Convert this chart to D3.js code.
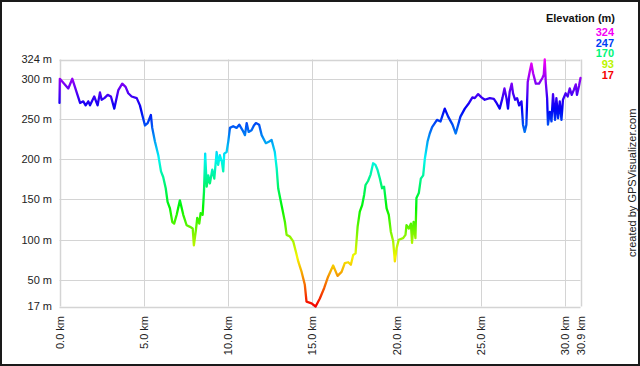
<!DOCTYPE html>
<html><head><meta charset="utf-8">
<script src="https://cdn.jsdelivr.net/npm/d3@7"></script>
<style>
html,body{margin:0;padding:0;background:#fff;}
svg{display:block;font-family:"Liberation Sans",Arial,sans-serif;}
</style></head>
<body>
<svg id="c" width="640" height="366"></svg>
<script>
const distKm = [0.00,0.02,0.52,0.76,1.22,1.41,1.55,1.71,1.81,2.06,2.26,2.40,2.50,2.66,2.86,3.05,3.25,3.49,3.72,3.92,4.08,4.28,4.58,4.77,4.91,5.07,5.23,5.42,5.50,5.66,5.86,6.02,6.15,6.30,6.41,6.55,6.69,6.80,6.95,7.14,
7.34,7.54,7.74,7.90,7.97,8.09,8.17,8.29,8.37,8.49,8.57,8.64,8.73,8.82,8.92,9.06,9.18,9.32,9.41,9.51,9.63,9.71,9.77,9.91,10.01,10.11,10.30,10.50,10.66,10.86,11.00,11.10,11.22,11.39,11.53,11.65,11.84,11.99,12.24,12.44,12.58,12.77,12.88,12.97,13.17,13.37,13.47,13.66,13.86,14.02,14.16,14.36,14.55,14.65,
14.95,15.19,15.44,15.70,15.93,16.23,16.49,16.73,16.92,17.12,17.28,17.42,17.56,17.68,17.81,17.95,18.07,18.15,18.30,18.45,18.60,18.74,18.86,19.00,19.13,19.25,19.40,19.53,19.65,19.79,19.89,19.99,20.12,20.38,20.52,20.58,20.72,20.84,20.91,21.00,21.11,21.17,21.31,21.43,21.57,21.67,21.83,21.96,22.10,
22.39,22.60,22.85,23.05,23.31,23.50,23.78,24.04,24.29,24.49,24.63,24.83,25.03,25.22,25.52,25.76,25.92,26.11,26.27,26.39,26.51,26.60,26.70,26.82,26.90,27.02,27.14,27.26,27.40,27.49,27.59,27.69,27.77,27.89,27.99,28.09,28.25,28.44,28.64,28.72,28.78,28.84,28.92,28.97,29.08,29.18,29.27,29.39,29.47,29.57,29.67,29.77,29.86,30.02,30.14,30.26,30.38,30.50,30.62,30.69,30.81,30.90];
const elevM = [270,300,288,300,270,272,267,272,267,278,267,283,274,276,280,278,263,286,294,290,282,278,276,267,255,242,245,255,239,222,205,185,178,164,147,139,122,120,131,149,
131,118,116,114,93,112,127,120,133,131,160,207,166,180,170,187,176,209,193,205,197,185,207,209,222,239,241,239,243,236,230,245,234,236,242,245,243,230,220,222,224,209,189,164,143,122,106,104,98,85,73,60,44,23,
21,17,27,40,54,68,55,60,71,72,69,81,83,116,135,143,156,168,173,181,195,193,187,176,164,166,139,131,110,98,73,89,100,102,106,118,114,120,96,122,102,152,158,176,180,201,222,232,240,
249,247,263,253,243,232,253,263,270,277,276,281,277,274,276,275,270,263,276,288,276,263,284,294,282,274,276,267,272,243,234,243,296,309,319,307,294,294,301,305,324,296,276,243,259,247,281,249,276,251,272,249,274,282,278,288,280,286,293,280,291,301];
const yTicks = [17,50,100,150,200,250,300,324];
const xTicks = [0,5,10,15,20,25,30,30.9];
const legendValues = [324,247,170,93,17];
const legendTitle = "Elevation (m)";
const credit = "created by GPSVisualizer.com";

const svg = d3.select("#c");
const W = 640, H = 366;
const x = d3.scaleLinear().domain([0, 30.9]).range([59.5, 580.5]);
const y = d3.scaleLinear().domain([17, 324]).range([306.5, 59.5]);
const minE = 17, maxE = 324;
const hueOf = e => (e - minE) / (maxE - minE) * 300;
const colorOf = e => d3.hsl(hueOf(e), 1, 0.48).formatHex();

svg.append("rect").attr("x",1).attr("y",1).attr("width",W-2).attr("height",H-2)
  .attr("fill","#fff").attr("stroke","#1a1a1a").attr("stroke-width",2);

// grid
const grid = svg.append("g");
grid.selectAll("line.h").data(yTicks).join("line")
  .attr("x1", x(0)).attr("x2", x(30.9))
  .attr("y1", d => Math.round(y(d))+0.5).attr("y2", d => Math.round(y(d))+0.5)
  .attr("stroke", "#d4d4d4").attr("stroke-width", d => (d===17||d===324)?1.5:1);
grid.selectAll("line.v").data(xTicks).join("line")
  .attr("y1", y(324)).attr("y2", y(17))
  .attr("x1", d => Math.round(x(d))+0.5).attr("x2", d => Math.round(x(d))+0.5)
  .attr("stroke", "#d4d4d4").attr("stroke-width", d => (d===0||d===30.9)?1.5:1);

// y labels
svg.append("g").selectAll("text").data(yTicks).join("text")
  .attr("x", 52).attr("y", d => y(d)).attr("dy","0.35em")
  .attr("text-anchor","end").attr("font-size",11).attr("fill","#222")
  .text(d => d + " m");

// x labels
svg.append("g").selectAll("text").data(xTicks).join("text")
  .attr("transform", d => `translate(${x(d)+4},316) rotate(-90)`)
  .attr("text-anchor","end").attr("font-size",11).attr("fill","#222")
  .text(d => d.toFixed(1) + " km");

// gradient by elevation
const defs = svg.append("defs");
const grad = defs.append("linearGradient").attr("id","elevGrad")
  .attr("gradientUnits","userSpaceOnUse")
  .attr("x1",0).attr("x2",0).attr("y1",y(minE)).attr("y2",y(maxE));
d3.range(0, 31).forEach(i => {
  const e = minE + (maxE - minE) * i / 30;
  grad.append("stop").attr("offset", (i/30)).attr("stop-color", colorOf(e));
});

const pts = distKm.map((d,i) => [d, elevM[i]]);
const line = d3.line().x(d => x(d[0])).y(d => y(d[1]));
svg.append("path").datum(pts).attr("d", line)
  .attr("fill","none").attr("stroke","url(#elevGrad)")
  .attr("stroke-width",2.3).attr("stroke-linejoin","round").attr("stroke-linecap","round");

// legend
svg.append("text").attr("x",615).attr("y",22).attr("text-anchor","end")
  .attr("font-size",11).attr("font-weight","bold").attr("fill","#111").text(legendTitle);
svg.append("g").selectAll("text").data(legendValues).join("text")
  .attr("x",614).attr("y",(d,i)=>36+i*10.7).attr("text-anchor","end")
  .attr("font-size",11).attr("font-weight","bold").attr("fill", d => colorOf(d))
  .text(d => d);

// credit
svg.append("text").attr("transform","translate(635.5,257) rotate(-90)")
  .attr("text-anchor","start").attr("font-size",11).attr("fill","#222").text(credit);
</script>
</body></html>
